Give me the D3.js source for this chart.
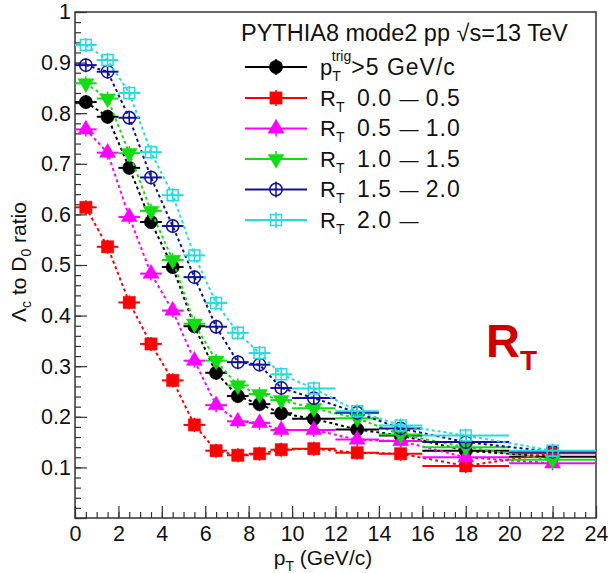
<!DOCTYPE html>
<html>
<head>
<meta charset="utf-8">
<script src="https://cdn.jsdelivr.net/npm/d3@7"></script>
<style>
  body { margin: 0; background: #fff; }
  text { font-family: "Liberation Sans", Arial, Helvetica, sans-serif; fill: #111; }
</style>
</head>
<body>
<div id="chart"></div>
<script>
// data
var binCenters = [0.5, 1.5, 2.5, 3.5, 4.5, 5.5, 6.5, 7.5, 8.5, 9.5, 11, 13, 15, 18, 22];
var binHalfWidths = [0.5, 0.5, 0.5, 0.5, 0.5, 0.5, 0.5, 0.5, 0.5, 0.5, 1, 1, 1, 2, 2];

var ratioTrig = [0.822, 0.793, 0.692, 0.585, 0.496, 0.379, 0.287, 0.241, 0.225, 0.207, 0.196, 0.175, 0.163, 0.133, 0.121];
var ratioRT00 = [0.614, 0.536, 0.426, 0.344, 0.272, 0.184, 0.133, 0.124, 0.127, 0.135, 0.137, 0.129, 0.127, 0.103, 0.128];
var ratioRT05 = [0.768, 0.722, 0.595, 0.483, 0.410, 0.311, 0.223, 0.191, 0.188, 0.174, 0.174, 0.155, 0.152, 0.120, 0.108];
var ratioRT10 = [0.859, 0.829, 0.721, 0.607, 0.510, 0.384, 0.311, 0.262, 0.245, 0.233, 0.217, 0.197, 0.165, 0.140, 0.115];
var ratioRT15 = [0.895, 0.882, 0.791, 0.673, 0.577, 0.476, 0.378, 0.308, 0.303, 0.257, 0.237, 0.208, 0.177, 0.150, 0.131];
var ratioRT20 = [0.935, 0.905, 0.840, 0.723, 0.638, 0.519, 0.425, 0.366, 0.326, 0.284, 0.256, 0.211, 0.183, 0.163, 0.133];

var rtLow = ["0.0", "0.5", "1.0", "1.5", "2.0"];
var rtHigh = ["0.5", "1.0", "1.5", "2.0", ""];

var xTicks = [0, 2, 4, 6, 8, 10, 12, 14, 16, 18, 20, 22, 24];
var xTickLabels = ["0", "2", "4", "6", "8", "10", "12", "14", "16", "18", "20", "22", "24"];
var yTicks = [0, 0.1, 0.2, 0.3, 0.4, 0.5, 0.6, 0.7, 0.8, 0.9, 1];
var yTickLabels = ["", "0.1", "0.2", "0.3", "0.4", "0.5", "0.6", "0.7", "0.8", "0.9", "1"];

//setup
var W = 608, H = 573;
var frame = { left: 75, right: 596, top: 12, bottom: 518 };

var svg = d3.select("#chart").append("svg")
    .attr("width", W)
    .attr("height", H);

var x = d3.scaleLinear().domain([0, 24]).range([frame.left, frame.right]);
var y = d3.scaleLinear().domain([0, 1]).range([frame.bottom, frame.top]);

// series: values + style
var series = [
    { values: ratioTrig, color: "#000000", shape: "circle", fill: true },
    { values: ratioRT00, color: "#ff0000", shape: "square", fill: true },
    { values: ratioRT05, color: "#ff00ff", shape: "triUp", fill: true },
    { values: ratioRT10, color: "#11dd11", shape: "triDown", fill: true },
    { values: ratioRT15, color: "#1010a0", shape: "circle", fill: false },
    { values: ratioRT20, color: "#22dddd", shape: "square", fill: false }
];

function drawMarker(g, s, cx, cy) {
    var sym;
    if (s.shape === "circle") sym = d3.symbol(d3.symbolCircle, s.fill ? 140 : 120);
    else if (s.shape === "square") sym = d3.symbol(d3.symbolSquare, s.fill ? 150 : 120);
    else sym = d3.symbol(d3.symbolTriangle, 110);
    var rot = s.shape === "triDown" ? " rotate(180)" : "";
    g.append("path")
        .attr("d", sym())
        .attr("transform", "translate(" + cx + "," + cy + ")" + rot)
        .attr("fill", s.fill ? s.color : "none")
        .attr("stroke", s.color)
        .attr("stroke-width", s.fill ? 0.5 : 1.5);
}

// axes ticks
var yMinor = d3.range(0, 1.0001, 0.02);
var xMinor = d3.range(0, 24.0001, 0.5);

svg.append("g")
    .attr("transform", "translate(" + frame.left + ",0)")
    .call(d3.axisLeft(y).tickValues(yMinor).tickSize(-6).tickFormat(""))
    .call(g => g.select(".domain").remove());

svg.append("g")
    .attr("class", "Yaxis")
    .attr("transform", "translate(" + frame.left + ",0)")
    .call(d3.axisLeft(y).tickValues(yTicks).tickSize(-12).tickPadding(4)
        .tickFormat((d, i) => yTickLabels[i]))
    .call(g => g.select(".domain").remove());

svg.append("g")
    .attr("transform", "translate(0," + frame.bottom + ")")
    .call(d3.axisBottom(x).tickValues(xMinor).tickSize(-6).tickFormat(""))
    .call(g => g.select(".domain").remove());

svg.append("g")
    .attr("class", "Xaxis")
    .attr("transform", "translate(0," + frame.bottom + ")")
    .call(d3.axisBottom(x).tickValues(xTicks).tickSize(-12).tickPadding(8)
        .tickFormat((d, i) => xTickLabels[i]))
    .call(g => g.select(".domain").remove());

svg.selectAll(".tick line").attr("stroke", "#333").attr("stroke-width", 1.2);
svg.selectAll(".tick text")
    .attr("font-size", 21.5)
    .attr("fill", "#111")
    .attr("font-family", "Liberation Sans, Arial, sans-serif");

svg.append("rect")
    .attr("x", frame.left).attr("y", frame.top)
    .attr("width", frame.right - frame.left)
    .attr("height", frame.bottom - frame.top)
    .attr("fill", "none")
    .attr("stroke", "#333")
    .attr("stroke-width", 1.5);

// data
var line = d3.line()
    .x((d, i) => x(binCenters[i]))
    .y(d => y(d));

series.forEach(function (s) {
    var g = svg.append("g");
    g.append("path")
        .attr("d", line(s.values))
        .attr("fill", "none")
        .attr("stroke", s.color)
        .attr("stroke-width", 2)
        .attr("stroke-dasharray", "3,3");
    s.values.forEach(function (v, i) {
        var cx = x(binCenters[i]), cy = y(v);
        g.append("line")
            .attr("x1", x(binCenters[i] - binHalfWidths[i]))
            .attr("x2", x(binCenters[i] + binHalfWidths[i]))
            .attr("y1", cy).attr("y2", cy)
            .attr("stroke", s.color).attr("stroke-width", 2);
        g.append("line")
            .attr("x1", cx).attr("x2", cx)
            .attr("y1", cy - 7).attr("y2", cy + 7)
            .attr("stroke", s.color).attr("stroke-width", 1.5);
        drawMarker(g, s, cx, cy);
    });
});

// legend
var leg = svg.append("g");
leg.append("text")
    .attr("x", 241).attr("y", 41)
    .attr("font-size", 23.5)
    .text("PYTHIA8 mode2 pp \u221As=13 TeV");

var rowY = [67, 98, 128.5, 159, 189.5, 220];
series.forEach(function (s, i) {
    var yy = rowY[i];
    leg.append("line")
        .attr("x1", 245).attr("x2", 307)
        .attr("y1", yy).attr("y2", yy)
        .attr("stroke", s.color).attr("stroke-width", 2);
    leg.append("line")
        .attr("x1", 276).attr("x2", 276)
        .attr("y1", yy - 8).attr("y2", yy + 8)
        .attr("stroke", s.color).attr("stroke-width", 1.5);
    drawMarker(leg, s, 276, yy);

    var t = leg.append("text").attr("x", 320).attr("y", yy + 7.5).attr("font-size", 22)
        .style("white-space", "pre");
    if (i === 0) {
        t.append("tspan").text("p");
        t.append("tspan").attr("font-size", 14).attr("dy", 6).text("T");
        t.append("tspan").attr("font-size", 14).attr("dx", -9).attr("dy", -20).text("trig");
        t.append("tspan").attr("dy", 14).attr("font-size", 23).attr("letter-spacing", 1).text(">5 GeV/c");
    } else {
        t.append("tspan").text("R");
        t.append("tspan").attr("font-size", 14).attr("dy", 6).text("T");
        t.append("tspan").attr("x", 357).attr("dy", -6)
            .attr("font-size", 23).attr("letter-spacing", 1).text(rtLow[i - 1] + " ");
        t.append("tspan").attr("font-size", 19).attr("dy", -1).text("\u2014");
        t.append("tspan").attr("font-size", 23).attr("dy", 1).attr("letter-spacing", 1)
            .text(" " + rtHigh[i - 1]);
    }
});

// axis titles
var yt = svg.append("text")
    .attr("transform", "translate(26,262) rotate(-90)")
    .attr("text-anchor", "middle")
    .attr("font-size", 21);
yt.append("tspan").text("\u039B");
yt.append("tspan").attr("font-size", 14).attr("dy", 5).text("c");
yt.append("tspan").attr("dy", -5).text(" to D");
yt.append("tspan").attr("font-size", 14).attr("dy", 5).text("0");
yt.append("tspan").attr("dy", -5).text(" ratio");

var xt = svg.append("text")
    .attr("x", 323).attr("y", 565)
    .attr("text-anchor", "middle")
    .attr("font-size", 21);
xt.append("tspan").text("p");
xt.append("tspan").attr("font-size", 14).attr("dy", 6).text("T");
xt.append("tspan").attr("dy", -6).text(" (GeV/c)");

// big R_T label
var rt = svg.append("text")
    .attr("x", 486).attr("y", 357)
    .attr("font-weight", "bold")
    .attr("font-size", 47)
    .style("fill", "#cc0000");
rt.append("tspan").text("R");
rt.append("tspan").attr("font-size", 28).attr("dy", 13).text("T");
</script>
</body>
</html>
